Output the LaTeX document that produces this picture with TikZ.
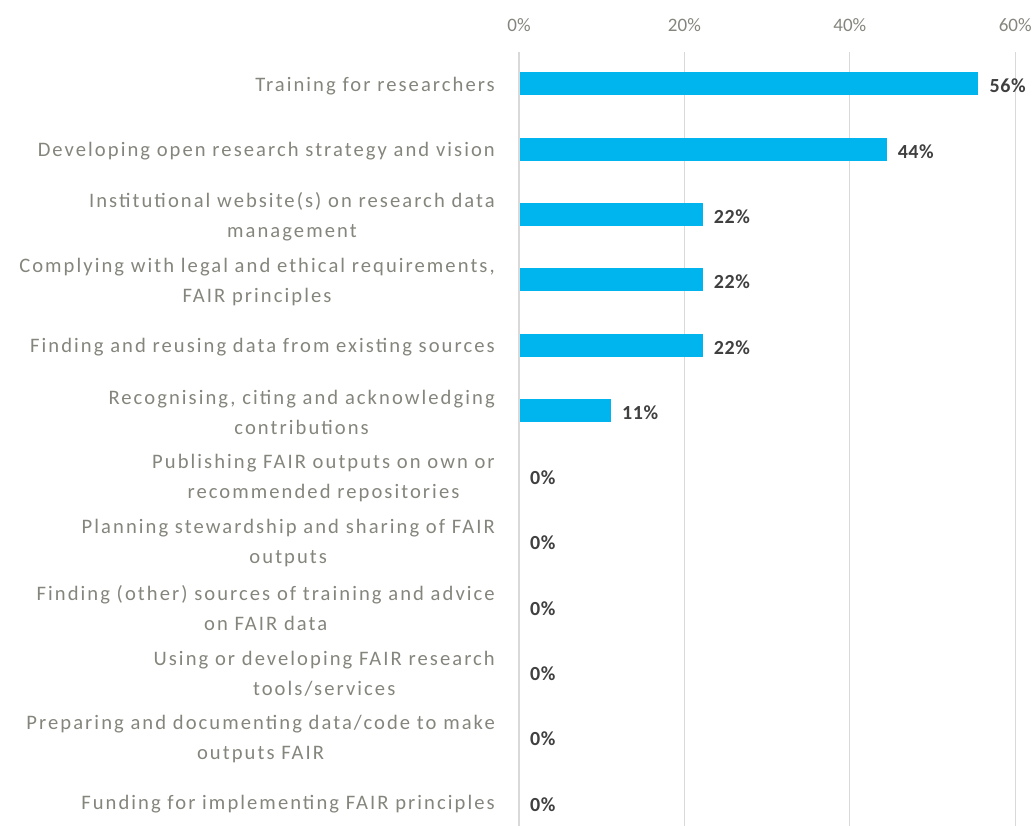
\documentclass[tikz,border=0pt]{standalone}
\usepackage{fontspec}
\setmainfont{Carlito}
\definecolor{barc}{HTML}{00B4EE}
\definecolor{lblc}{HTML}{85857D}
\definecolor{valc}{HTML}{404040}
\definecolor{gridc}{HTML}{D9D9D9}
\begin{document}
\begin{tikzpicture}[x=1pt,y=-1pt,
  cat/.style={anchor=east,align=center,text=lblc,font=\fontsize{20.6}{30}\selectfont\addfontfeature{LetterSpace=10},inner sep=0pt},
  val/.style={anchor=west,text=valc,font=\fontsize{20}{24}\selectfont\bfseries\addfontfeature{LetterSpace=3},inner sep=0pt},
  tick/.style={text=lblc,font=\fontsize{19}{22}\selectfont,inner sep=0pt},
  bar/.style={fill=barc,draw=none},
  grid/.style={draw=gridc,line width=1.2pt}]
\useasboundingbox (0,0) rectangle (1033,826);
% gridlines and ticks
\foreach \p/\t in {0/0\%,20/20\%,40/40\%,60/60\%}{
  \coordinate (g\p top) at (519+8.27*\p,52);
  \coordinate (g\p bot) at (519+8.27*\p,826);
  \draw[grid] (g\p top) -- (g\p bot);
  \node[tick] (t\p) at (519+8.27*\p,25) {\t};
}
% rows
\foreach \i/\n/\v/\txt in {
 0/5/56/Training for researchers,
 1/4/44/Developing open research strategy and vision,
 2/2/22/{Institutional website(s) on research data\\management},
 3/2/22/{Complying with legal and ethical requirements,\\FAIR principles},
 4/2/22/Finding and reusing data from existing sources,
 5/1/11/{Recognising, citing and acknowledging\\contributions},
 6/0/0/{Publishing FAIR outputs on own or\\recommended repositories},
 7/0/0/{Planning stewardship and sharing of FAIR\\outputs},
 8/0/0/{Finding (other) sources of training and advice\\on FAIR data},
 9/0/0/{Using or developing FAIR research\\tools/services},
 10/0/0/{Preparing and documenting data/code to make\\outputs FAIR},
 11/0/0/Funding for implementing FAIR principles}{
  \pgfmathsetmacro{\yc}{84+65.3*\i}
  \pgfmathsetmacro{\xe}{519+8.27*100*\n/9}
  \node[cat] (c\i) at (495,\yc+2) {\txt};
  \ifnum\n>0
    \fill[bar] (520,\yc-11.5) rectangle (\xe,\yc+11.5);
  \fi
  \node[val] (v\i) at (\xe+11,\yc+2) {\v\%};
}
\end{tikzpicture}
\end{document}
